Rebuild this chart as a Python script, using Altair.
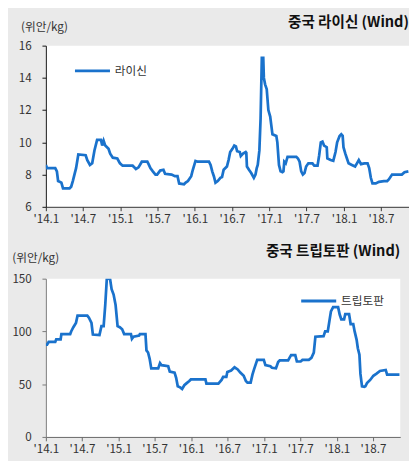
import altair as alt
import pandas as pd

# ---------------- data ----------------
lysine_dates = [
    "2014-01-01", "2014-01-07", "2014-02-16", "2014-02-24", "2014-03-02", "2014-03-18", "2014-03-26",
    "2014-04-27", "2014-05-05", "2014-05-13", "2014-05-21", "2014-05-29", "2014-06-09", "2014-07-15",
    "2014-07-23", "2014-08-05", "2014-08-16", "2014-08-27", "2014-09-09", "2014-09-28", "2014-10-04",
    "2014-10-11", "2014-10-19", "2014-11-04", "2014-11-12", "2014-11-25", "2014-12-17", "2014-12-30",
    "2015-01-12", "2015-03-02", "2015-03-10", "2015-03-18", "2015-03-31", "2015-04-16", "2015-05-13",
    "2015-05-21", "2015-05-28", "2015-06-09", "2015-06-22", "2015-06-30", "2015-07-15", "2015-07-31",
    "2015-08-08", "2015-09-09", "2015-09-25", "2015-10-08", "2015-10-16", "2015-11-09", "2015-11-17",
    "2015-11-28", "2015-12-14", "2015-12-22", "2016-01-04", "2016-01-15", "2016-03-10", "2016-03-18",
    "2016-03-26", "2016-04-03", "2016-04-11", "2016-04-22", "2016-05-05", "2016-05-13", "2016-05-21",
    "2016-06-06", "2016-06-14", "2016-06-22", "2016-07-03", "2016-07-12", "2016-07-20", "2016-07-26",
    "2016-08-08", "2016-08-13", "2016-08-24", "2016-09-06", "2016-09-09", "2016-09-12", "2016-09-22",
    "2016-10-03", "2016-10-16", "2016-10-24", "2016-10-30", "2016-11-04", "2016-11-12", "2016-11-18",
    "2016-11-24", "2016-12-01", "2016-12-04", "2016-12-10", "2016-12-18", "2016-12-26", "2017-01-04",
    "2017-01-15", "2017-02-03", "2017-02-08", "2017-02-16", "2017-02-24", "2017-03-05", "2017-03-10",
    "2017-03-14", "2017-03-21", "2017-03-30", "2017-05-12", "2017-05-20", "2017-05-28", "2017-06-05",
    "2017-06-13", "2017-06-21", "2017-06-29", "2017-07-10", "2017-07-30", "2017-08-08", "2017-08-24",
    "2017-09-01", "2017-09-09", "2017-09-17", "2017-09-25", "2017-10-08", "2017-10-11", "2017-10-27",
    "2017-11-09", "2017-11-20", "2017-11-28", "2017-12-10", "2017-12-18", "2017-12-25", "2017-12-29",
    "2018-01-07", "2018-01-15", "2018-01-23", "2018-02-08", "2018-02-24", "2018-03-05", "2018-03-14",
    "2018-03-25", "2018-04-10", "2018-04-26", "2018-05-04", "2018-05-12", "2018-05-20", "2018-06-05",
    "2018-06-21", "2018-07-15", "2018-07-31", "2018-08-08", "2018-08-24", "2018-10-11", "2018-10-24",
    "2018-11-12",
]
lysine_values = [
    8.6, 8.4, 8.4, 8.2, 7.6, 7.5, 7.15,
    7.15, 7.25, 7.6, 8.0, 8.4, 9.25, 9.2,
    8.9, 8.6, 8.7, 9.5, 10.15, 10.15, 9.8,
    10.1, 9.8, 9.6, 9.3, 9.05, 9.0, 8.7,
    8.55, 8.55, 8.45, 8.35, 8.45, 8.8, 8.8,
    8.6, 8.4, 8.2, 8.0, 8.0, 8.25, 8.3,
    8.05, 8.0, 7.9, 7.9, 7.45, 7.4, 7.5,
    7.6, 7.9, 8.3, 8.85, 8.8, 8.8, 8.6,
    8.2, 7.9, 7.5, 7.6, 7.8, 7.85, 8.3,
    8.5, 8.9, 9.4, 9.6, 9.8, 9.75, 9.45,
    9.4, 9.15, 9.3, 9.4, 9.35, 8.5, 8.3,
    8.1, 7.8, 8.0, 8.4, 8.6, 9.5, 11.5,
    15.25, 15.25, 14.0, 13.6, 13.3, 12.0, 11.6,
    10.5, 10.4, 10.0, 8.6, 8.2, 8.15, 8.2,
    8.8, 8.7, 9.1, 9.1, 9.0, 8.8, 8.2,
    8.0, 8.1, 8.5, 8.7, 8.7, 8.55, 8.55,
    9.2, 10.0, 10.05, 9.8, 9.7, 9.0, 8.9,
    8.85, 9.4, 10.0, 10.4, 10.5, 10.4, 9.7,
    9.3, 9.0, 8.7, 8.6, 8.5, 8.7, 8.9,
    8.65, 8.7, 8.7, 8.4, 7.8, 7.45, 7.45,
    7.55, 7.6, 7.6, 7.7, 8.0, 8.0, 8.15,
    8.2,
]

trp_dates = [
    "2014-01-01", "2014-01-07", "2014-01-15", "2014-02-17", "2014-02-22", "2014-03-16", "2014-03-20",
    "2014-05-03", "2014-05-08", "2014-05-19", "2014-06-01", "2014-06-09", "2014-07-28", "2014-08-05",
    "2014-08-18", "2014-08-25", "2014-09-27", "2014-10-07", "2014-10-18", "2014-10-26", "2014-11-03",
    "2014-11-19", "2014-11-27", "2014-12-07", "2014-12-17", "2014-12-27", "2015-01-07", "2015-01-19",
    "2015-01-29", "2015-03-04", "2015-03-09", "2015-03-17", "2015-04-14", "2015-04-18", "2015-05-16",
    "2015-05-21", "2015-05-29", "2015-06-06", "2015-06-14", "2015-07-19", "2015-07-28", "2015-08-05",
    "2015-09-07", "2015-09-15", "2015-10-09", "2015-10-17", "2015-10-25", "2015-11-06", "2015-11-16",
    "2015-11-27", "2015-12-09", "2015-12-22", "2015-12-30", "2016-03-12", "2016-03-17", "2016-05-16",
    "2016-06-01", "2016-06-09", "2016-06-25", "2016-06-30", "2016-07-19", "2016-08-05", "2016-08-21",
    "2016-09-03", "2016-09-20", "2016-10-01", "2016-10-09", "2016-10-25", "2016-11-03", "2016-11-11",
    "2016-11-27", "2016-12-30", "2017-01-07", "2017-02-01", "2017-02-09", "2017-03-01", "2017-03-12",
    "2017-03-20", "2017-05-01", "2017-05-08", "2017-05-16", "2017-06-06", "2017-06-14", "2017-07-03",
    "2017-07-12", "2017-08-13", "2017-08-26", "2017-09-07", "2017-09-15", "2017-10-26", "2017-11-03",
    "2017-11-16", "2017-11-22", "2017-12-02", "2017-12-13", "2018-01-07", "2018-01-15", "2018-01-23",
    "2018-02-06", "2018-02-12", "2018-03-03", "2018-03-11", "2018-03-24", "2018-03-31", "2018-04-10",
    "2018-04-16", "2018-04-24", "2018-04-29", "2018-05-07", "2018-05-19", "2018-05-24", "2018-06-01",
    "2018-06-17", "2018-07-03", "2018-07-19", "2018-08-05", "2018-09-03", "2018-09-10", "2018-11-11",
]
trp_values = [
    87.5, 87.5, 90, 90, 92.5, 92.5, 97.5,
    97.5, 100, 104, 108, 115, 115, 113,
    108, 97, 96.5, 105, 105, 125, 150,
    150, 140, 135, 125, 105, 104, 102,
    97.5, 97.5, 93, 95, 96, 97.5, 97.5,
    82, 80, 74, 65, 65, 70, 68,
    67, 62, 61, 56, 48, 47, 45.5,
    49, 51, 53, 54.5, 54.5, 50.5, 50.5,
    54, 57, 57, 61.5, 63, 66, 64,
    61, 58, 53, 51.5, 51.5, 59, 64,
    73, 73, 68, 67, 65.5, 65, 71,
    72.5, 72.5, 75, 77.5, 77.5, 71.5, 71.5,
    73, 73, 75, 80, 95, 95.5, 100,
    100, 107, 119, 123, 123, 116, 111.5,
    111.5, 116.5, 116.5, 107, 107, 100, 92,
    84, 78, 60, 48, 47.5, 48, 51,
    54, 58, 60, 62.5, 63.5, 59, 59,
]

x_tick_dates = ["2014-01-01", "2014-07-01", "2015-01-01", "2015-07-01", "2016-01-01",
                "2016-07-01", "2017-01-01", "2017-07-01", "2018-01-01", "2018-07-01"]
x_domain_dates = ["2014-01-01", "2018-11-15"]

lysine_ticks = [6, 8, 10, 12, 14, 16]
trp_ticks = [0, 50, 100, 150]

# ---------------- style ----------------
BLUE = "#1a72cc"
BG = "#eaeaea"
FONT = "Noto Sans CJK KR"


def to_dt(s):
    t = pd.Timestamp(s)
    return alt.DateTime(year=t.year, month=t.month, date=t.day)


def panel(dates, values, name, ticks, title, width, height, title_offset,
          ytitle_x, ytitle_y, leg_x, leg_y, x_axis_color, y_axis_color, label_pad):
    df = pd.DataFrame({"date": pd.to_datetime(dates), "value": values, "series": name})
    return (
        alt.Chart(df)
        .mark_line(strokeWidth=2.8, interpolate="linear", clip=True)
        .encode(
            x=alt.X(
                "date:T",
                scale=alt.Scale(domain=[to_dt(d) for d in x_domain_dates], nice=False),
                axis=alt.Axis(
                    values=[to_dt(d) for d in x_tick_dates],
                    format="'%y.%-m",
                    labelFlush=False,
                    labelOverlap=False,
                    grid=False,
                    title=None,
                    tickSize=4,
                    labelPadding=3,
                    domainColor=x_axis_color,
                    tickColor=x_axis_color,
                ),
            ),
            y=alt.Y(
                "value:Q",
                scale=alt.Scale(domain=[ticks[0], ticks[-1]], nice=False, zero=False),
                axis=alt.Axis(
                    values=ticks,
                    grid=False,
                    tickSize=4,
                    labelPadding=label_pad,
                    title="(위안/kg)",
                    titleAngle=0,
                    titleAlign="left",
                    titleBaseline="middle",
                    titleX=ytitle_x,
                    titleY=ytitle_y,
                    titleFontWeight="normal",
                    titleFontSize=12,
                    titleColor="#333333",
                    domainColor=y_axis_color,
                    tickColor=y_axis_color,
                ),
            ),
            color=alt.Color(
                "series:N",
                scale=alt.Scale(domain=[name], range=[BLUE]),
                legend=alt.Legend(
                    orient="none",
                    legendX=leg_x,
                    legendY=leg_y,
                    title=None,
                    symbolType="stroke",
                    symbolSize=1300,
                    symbolStrokeWidth=3,
                    symbolStrokeColor=BLUE,
                    labelFontSize=12,
                    labelColor="#333333",
                    labelOffset=3,
                    padding=0,
                ),
            ),
        )
        .properties(
            width=width,
            height=height,
            title=alt.Title(
                title,
                anchor="end",
                fontSize=15,
                fontWeight="bold",
                color="#111111",
                offset=title_offset,
            ),
        )
    )


top = panel(lysine_dates, lysine_values, "라이신", lysine_ticks, "중국 라이신 (Wind)",
            374, 166, -10, -26, -20, 28, 6, "#333333", "#111111", 11)
bottom = panel(trp_dates, trp_values, "트립토판", trp_ticks, "중국 트립토판 (Wind)",
               365, 163, -8, -35, -22, 261, 3, "#666666", "#777777", 11)

chart = (
    alt.vconcat(top, bottom, spacing=21)
    .resolve_scale(color="independent")
    .resolve_legend(color="independent")
    .properties(background=BG, padding={"left": 4, "top": 1, "right": 0, "bottom": 0})
    .configure(font=FONT)
    .configure_view(fill="white", strokeWidth=0)
    .configure_axis(labelFontSize=12, labelColor="#333333", labelFont=FONT)
)

chart.save("out.html", embed_options={"renderer": "svg", "actions": False})
